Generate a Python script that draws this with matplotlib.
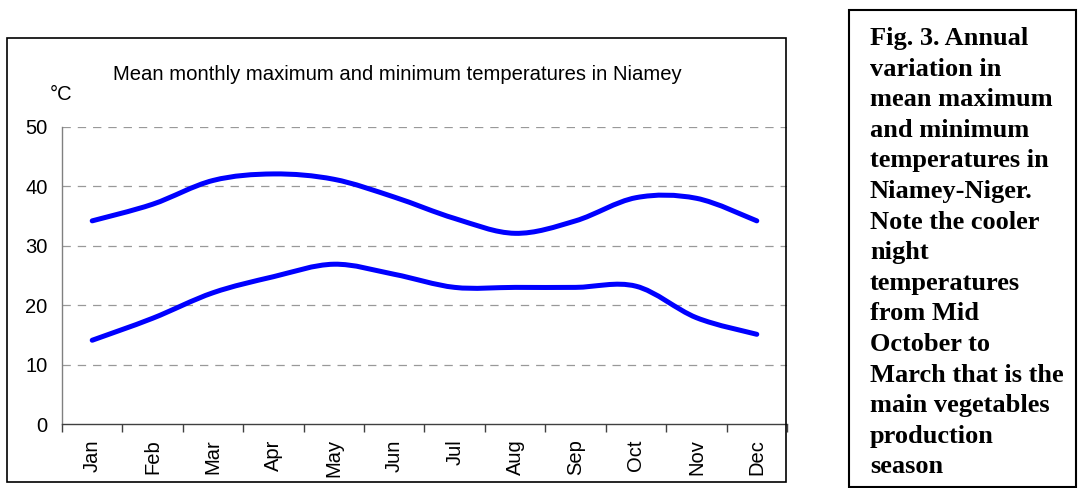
import matplotlib
matplotlib.use("Agg")
import matplotlib.pyplot as plt
from matplotlib.path import Path
from matplotlib.patches import PathPatch, Rectangle

# ---------------- data ----------------
months = ["Jan", "Feb", "Mar", "Apr", "May", "Jun",
          "Jul", "Aug", "Sep", "Oct", "Nov", "Dec"]
tmax = [34.2, 37.0, 41.0, 42.1, 41.2, 38.2, 34.6, 32.1, 34.2, 38.1, 38.0, 34.2]
tmin = [14.1, 17.8, 22.1, 24.8, 26.9, 25.2, 23.0, 23.0, 23.0, 23.2, 17.9, 15.1]
yticks = [0, 10, 20, 30, 40, 50]
title = "Mean monthly maximum and minimum temperatures in Niamey"
unit = "°C"
caption_lines = [
    "Fig. 3. Annual", "variation in", "mean maximum", "and minimum",
    "temperatures in", "Niamey-Niger.", "Note the cooler", "night",
    "temperatures", "from Mid", "October to", "March that is the",
    "main vegetables", "production", "season",
]

W, H = 1078, 488
plt.rcParams["font.family"] = ["Liberation Sans", "DejaVu Sans"]
plt.rcParams["lines.scale_dashes"] = False

fig = plt.figure(figsize=(W / 100, H / 100), dpi=100)


def fx(px):
    return px / W


def fy(py):
    return 1 - py / H


ax_l, ax_r, ax_t, ax_b = 62, 787, 127, 424
ax = fig.add_axes([fx(ax_l), fy(ax_b), (ax_r - ax_l) / W, (ax_b - ax_t) / H])


def smooth_path(xs, ys):
    """Catmull-Rom style smoothing drawn as cubic Bezier segments."""
    pts = list(zip(xs, ys))
    n = len(pts)
    verts = [pts[0]]
    codes = [Path.MOVETO]
    for i in range(n - 1):
        p0 = pts[i - 1] if i > 0 else pts[i]
        p1 = pts[i]
        p2 = pts[i + 1]
        p3 = pts[i + 2] if i + 2 < n else pts[i + 1]
        c1 = (p1[0] + (p2[0] - p0[0]) / 6, p1[1] + (p2[1] - p0[1]) / 6)
        c2 = (p2[0] - (p3[0] - p1[0]) / 6, p2[1] - (p3[1] - p1[1]) / 6)
        verts += [c1, c2, p2]
        codes += [Path.CURVE4] * 3
    return Path(verts, codes)


xpos = list(range(len(months)))
for series in (tmax, tmin):
    patch = PathPatch(smooth_path(xpos, series), fill=False,
                      edgecolor="#0000FF", linewidth=3.6,
                      capstyle="round", joinstyle="round", zorder=3)
    ax.add_patch(patch)

ax.set_xlim(-0.5, len(months) - 0.5)
ax.set_ylim(0, 50)

# y axis
ax.set_yticks(yticks)
ax.set_yticklabels([str(v) for v in yticks])
ax.tick_params(axis="y", length=0, pad=10.5, labelsize=14.5, colors="black")
for v in yticks[1:]:
    ax.axhline(v, color="#999999", linewidth=0.9, linestyle=(0, (6, 5)), zorder=1)

# x axis
ax.set_xticks(xpos)
ax.set_xticklabels(months, rotation=90)
ax.set_xticks([i - 0.5 for i in range(len(months) + 1)], minor=True)
ax.tick_params(axis="x", which="major", length=0, pad=11, labelsize=14.5)
ax.tick_params(axis="x", which="minor", length=6, width=1.0, direction="out",
               color="#404040")

ax.spines["top"].set_visible(False)
ax.spines["left"].set_color("#808080")
ax.spines["left"].set_linewidth(1.0)
ax.spines["bottom"].set_color("#404040")
ax.spines["bottom"].set_linewidth(1.0)
ax.spines["right"].set_visible(False)

# outer chart frame
fig.patches.append(Rectangle((fx(7), fy(482)), (786 - 7) / W, (482 - 38) / H,
                             transform=fig.transFigure, fill=False,
                             edgecolor="black", linewidth=1.2))

fig.text(fx(397), fy(80), title, ha="center", va="baseline", fontsize=14.6)
fig.text(fx(50), fy(100), unit, ha="left", va="baseline", fontsize=14.5)

# caption box
fig.patches.append(Rectangle((fx(849), fy(487)), (1076 - 849) / W, (487 - 10) / H,
                             transform=fig.transFigure, fill=False,
                             edgecolor="black", linewidth=1.5))
for i, line in enumerate(caption_lines):
    fig.text(fx(870), fy(45 + i * 30.6), line, ha="left", va="baseline",
             fontsize=19, fontweight="bold",
             family=["Liberation Serif", "DejaVu Serif"])

fig.savefig("out.png", dpi=100)
